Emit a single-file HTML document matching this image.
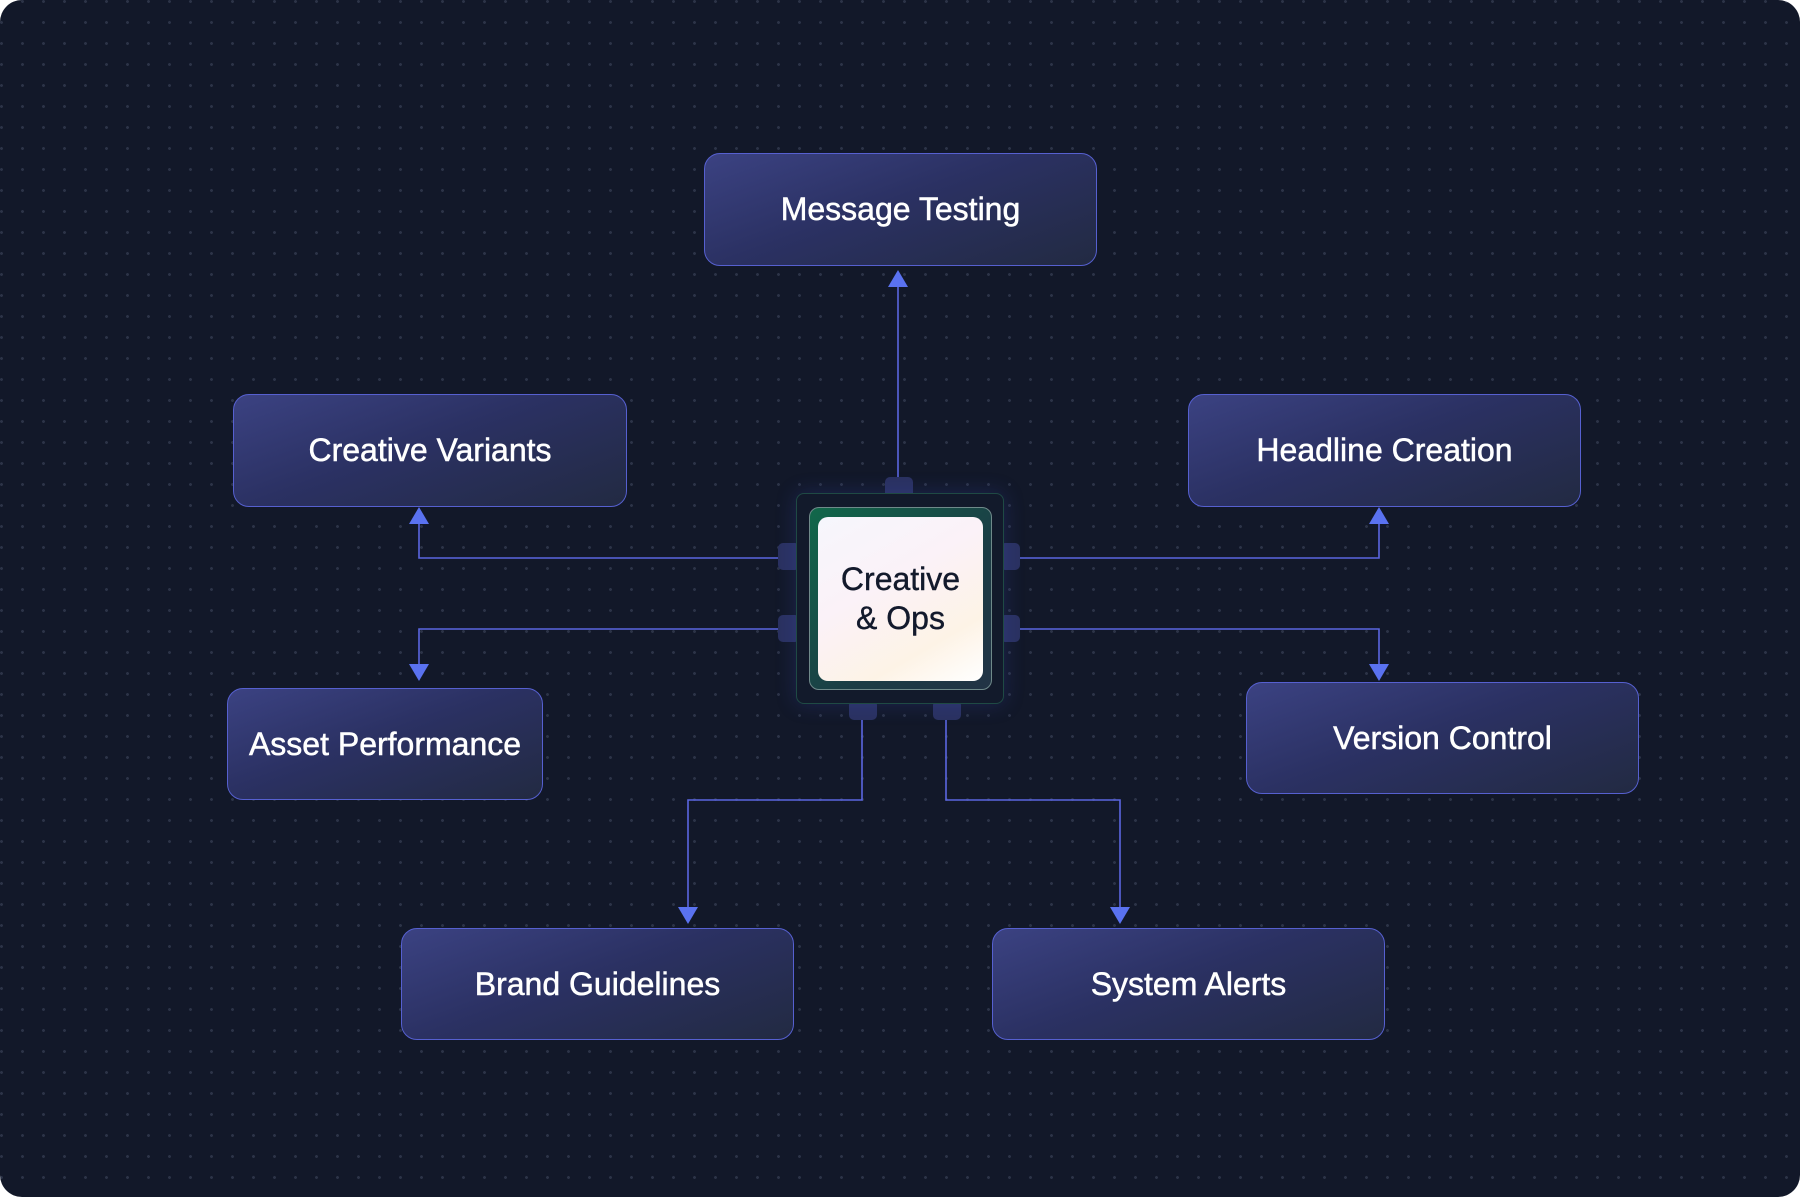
<!DOCTYPE html>
<html><head><meta charset="utf-8"><style>
html,body{margin:0;padding:0;background:#fff;}
.wrap{position:relative;width:1800px;height:1197px;border-radius:22px;overflow:hidden;background-color:#121829;
background-image:radial-gradient(circle,#2c3347 1.3px,transparent 1.6px);background-size:21px 21px;background-position:-9px -9px;}
.node{position:absolute;box-sizing:border-box;border:1.5px solid #5660d0;border-radius:16px;
background:linear-gradient(160deg,#3b4282 0%,#2b3163 45%,#222a42 100%);color:#fff;
font-family:"Liberation Sans",sans-serif;font-size:32px;-webkit-text-stroke:0.5px #fff;display:flex;align-items:center;justify-content:center;}
svg{position:absolute;left:0;top:0;}
.pad{position:absolute;background:#2a3160;border-radius:5px;}
</style></head><body><div class="wrap">
<svg width="1800" height="1197">
<g stroke="#5a66e0" stroke-width="1.6" fill="none">
<path d="M898 477 V285"/>
<path d="M778 558 H419 V522"/>
<path d="M1020 558 H1379 V522"/>
<path d="M778 629 H419 V667"/>
<path d="M1020 629 H1379 V667"/>
<path d="M862 720 V800 H688 V910"/>
<path d="M946 720 V800 H1120 V910"/>
</g>
<g fill="#5a72f0">
<path d="M888 287 L898 270 L908 287Z"/>
<path d="M409 524 L419 507 L429 524Z"/>
<path d="M1369 524 L1379 507 L1389 524Z"/>
<path d="M409 664 L419 681 L429 664Z"/>
<path d="M1369 664 L1379 681 L1389 664Z"/>
<path d="M678 907 L688 924 L698 907Z"/>
<path d="M1110 907 L1120 924 L1130 907Z"/>
</g>
</svg>
<div class="pad" style="left:885px;top:477px;width:28px;height:22px"></div>
<div class="pad" style="left:778px;top:543px;width:22px;height:27px"></div>
<div class="pad" style="left:778px;top:615px;width:22px;height:27px"></div>
<div class="pad" style="left:1000px;top:543px;width:20px;height:27px"></div>
<div class="pad" style="left:1000px;top:615px;width:20px;height:27px"></div>
<div class="pad" style="left:849px;top:700px;width:28px;height:20px"></div>
<div class="pad" style="left:933px;top:700px;width:28px;height:20px"></div>
<div style="position:absolute;left:796px;top:493px;width:208px;height:211px;box-sizing:border-box;border:1.5px solid #1f4a44;border-radius:8px;background:#121a2b;box-shadow:0 0 20px rgba(60,80,200,0.25)"></div>
<div style="position:absolute;left:809px;top:507px;width:183px;height:183px;box-sizing:border-box;border:1.5px solid #6f8a8a;border-radius:10px;background:linear-gradient(135deg,#11684a,#1b3d45 60%,#223345)"></div>
<div style="position:absolute;left:818px;top:517px;width:165px;height:164px;border-radius:10px;background:linear-gradient(150deg,#f6f6fc 0%,#fbf2f8 40%,#fdf3e6 75%,#ffffff 100%);display:flex;align-items:center;justify-content:center;text-align:center;font-family:'Liberation Sans',sans-serif;font-size:32px;line-height:39px;color:#131a2c;-webkit-text-stroke:0.4px #131a2c">Creative<br>&amp; Ops</div>
<div class="node" style="left:704px;top:153px;width:393px;height:113px">Message Testing</div>
<div class="node" style="left:233px;top:394px;width:394px;height:113px">Creative Variants</div>
<div class="node" style="left:1188px;top:394px;width:393px;height:113px">Headline Creation</div>
<div class="node" style="left:227px;top:688px;width:316px;height:112px">Asset Performance</div>
<div class="node" style="left:1246px;top:682px;width:393px;height:112px">Version Control</div>
<div class="node" style="left:401px;top:928px;width:393px;height:112px">Brand Guidelines</div>
<div class="node" style="left:992px;top:928px;width:393px;height:112px">System Alerts</div>
</div></body></html>
